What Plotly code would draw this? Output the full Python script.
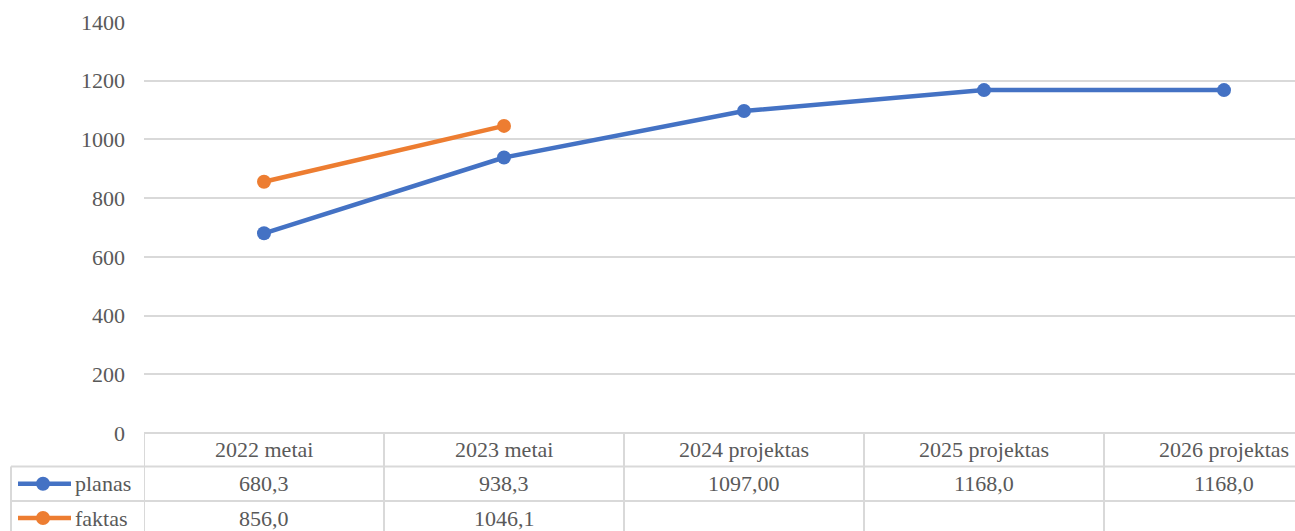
import plotly.graph_objects as go

# ---- data ----
categories = ["2022 metai", "2023 metai", "2024 projektas", "2025 projektas", "2026 projektas"]
planas = [680.3, 938.3, 1097.00, 1168.0, 1168.0]
planas_decimals = [1, 1, 2, 1, 1]
faktas = [856.0, 1046.1, None, None, None]
faktas_decimals = [1, 1, None, None, None]
series_names = ["planas", "faktas"]
y_ticks = [0, 200, 400, 600, 800, 1000, 1200, 1400]

# ---- layout constants (pixels) ----
W, H = 1295, 531
L, R, T, B = 144, 0, 22, 98
PW, PH = W - L - R, H - T - B
BLUE, ORANGE = "#4472C4", "#ED7D31"
GRID = "#d9d9d9"
TXT = "#595959"
FONT = "Times"
FS = 22


def px_x(x):
    return (x - L) / PW


def px_y(y):
    return 1 - (y - T) / PH


def fmt(v, d):
    if v is None:
        return ""
    return f"{v:.{d}f}".replace(".", ",")


fig = go.Figure()
fig.add_trace(go.Scatter(x=list(range(len(categories))), y=planas, name=series_names[0],
                         mode="lines+markers", line=dict(color=BLUE, width=4.5),
                         marker=dict(size=14, color=BLUE), showlegend=False, hoverinfo="skip"))
fig.add_trace(go.Scatter(x=list(range(len(categories))), y=faktas, name=series_names[1],
                         mode="lines+markers", line=dict(color=ORANGE, width=4.5),
                         marker=dict(size=14, color=ORANGE), showlegend=False, hoverinfo="skip"))

shapes = []
annotations = []
row_top, row1, row2, bottom = 433, 466.5, 501, 540
left_border = 11

# horizontal table lines
shapes.append(dict(type="line", xref="paper", yref="paper", x0=0, x1=1,
                   y0=px_y(row_top), y1=px_y(row_top), line=dict(color=GRID, width=2)))
for yy in (row1, row2):
    shapes.append(dict(type="line", xref="paper", yref="paper", x0=px_x(left_border), x1=1,
                       y0=px_y(yy), y1=px_y(yy), line=dict(color=GRID, width=2)))
# vertical table lines at category boundaries
n = len(categories)
for i in range(n):
    b = i - 0.5
    shapes.append(dict(type="line", xref="x", yref="paper", x0=b, x1=b,
                       y0=px_y(row_top), y1=px_y(bottom), line=dict(color=GRID, width=2)))
shapes.append(dict(type="line", xref="paper", yref="paper", x0=px_x(left_border), x1=px_x(left_border),
                   y0=px_y(row1), y1=px_y(bottom), line=dict(color=GRID, width=2)))

# header row
for i, c in enumerate(categories):
    annotations.append(dict(x=i, y=px_y((row_top + row1) / 2), xref="x", yref="paper",
                            text=c, showarrow=False, xanchor="center", yanchor="middle",
                            font=dict(family=FONT, size=FS, color=TXT)))
# value rows
rows = [(planas, planas_decimals, BLUE, (row1 + row2) / 2),
        (faktas, faktas_decimals, ORANGE, (row2 + 535) / 2)]
for (vals, decs, col, yc), name in zip(rows, series_names):
    for i, (v, d) in enumerate(zip(vals, decs)):
        if v is None:
            continue
        annotations.append(dict(x=i, y=px_y(yc), xref="x", yref="paper",
                                text=fmt(v, d), showarrow=False, xanchor="center", yanchor="middle",
                                font=dict(family=FONT, size=FS, color=TXT)))
    # legend key
    shapes.append(dict(type="line", xref="paper", yref="paper", x0=px_x(18), x1=px_x(71),
                       y0=px_y(yc), y1=px_y(yc), line=dict(color=col, width=4.5)))
    shapes.append(dict(type="circle", xref="paper", yref="paper", x0=px_x(36), x1=px_x(50),
                       y0=px_y(yc - 7), y1=px_y(yc + 7), fillcolor=col, line=dict(color=col, width=0)))
    annotations.append(dict(x=px_x(73), y=px_y(yc), xref="paper", yref="paper",
                            text=name, showarrow=False, xanchor="left", yanchor="middle",
                            font=dict(family=FONT, size=FS, color=TXT)))

fig.update_layout(
    width=W, height=H, autosize=False,
    margin=dict(l=L, r=R, t=T, b=B, pad=0),
    paper_bgcolor="white", plot_bgcolor="white",
    font=dict(family=FONT, size=FS, color=TXT),
    shapes=shapes, annotations=annotations,
    xaxis=dict(range=[-0.5, -0.5 + PW / 240], showticklabels=False, showgrid=False,
               zeroline=False, showline=False, fixedrange=True),
    yaxis=dict(range=[0, 1400], tickvals=y_ticks, showgrid=True, gridcolor=GRID, gridwidth=1.5,
               zeroline=False, showline=False, ticks="", ticklabelstandoff=18, fixedrange=True,
               tickfont=dict(family=FONT, size=FS, color=TXT)),
)

fig.write_html("out.html", config={"displayModeBar": False},
               post_script="document.body.style.margin='0';document.body.style.overflow='hidden';")
